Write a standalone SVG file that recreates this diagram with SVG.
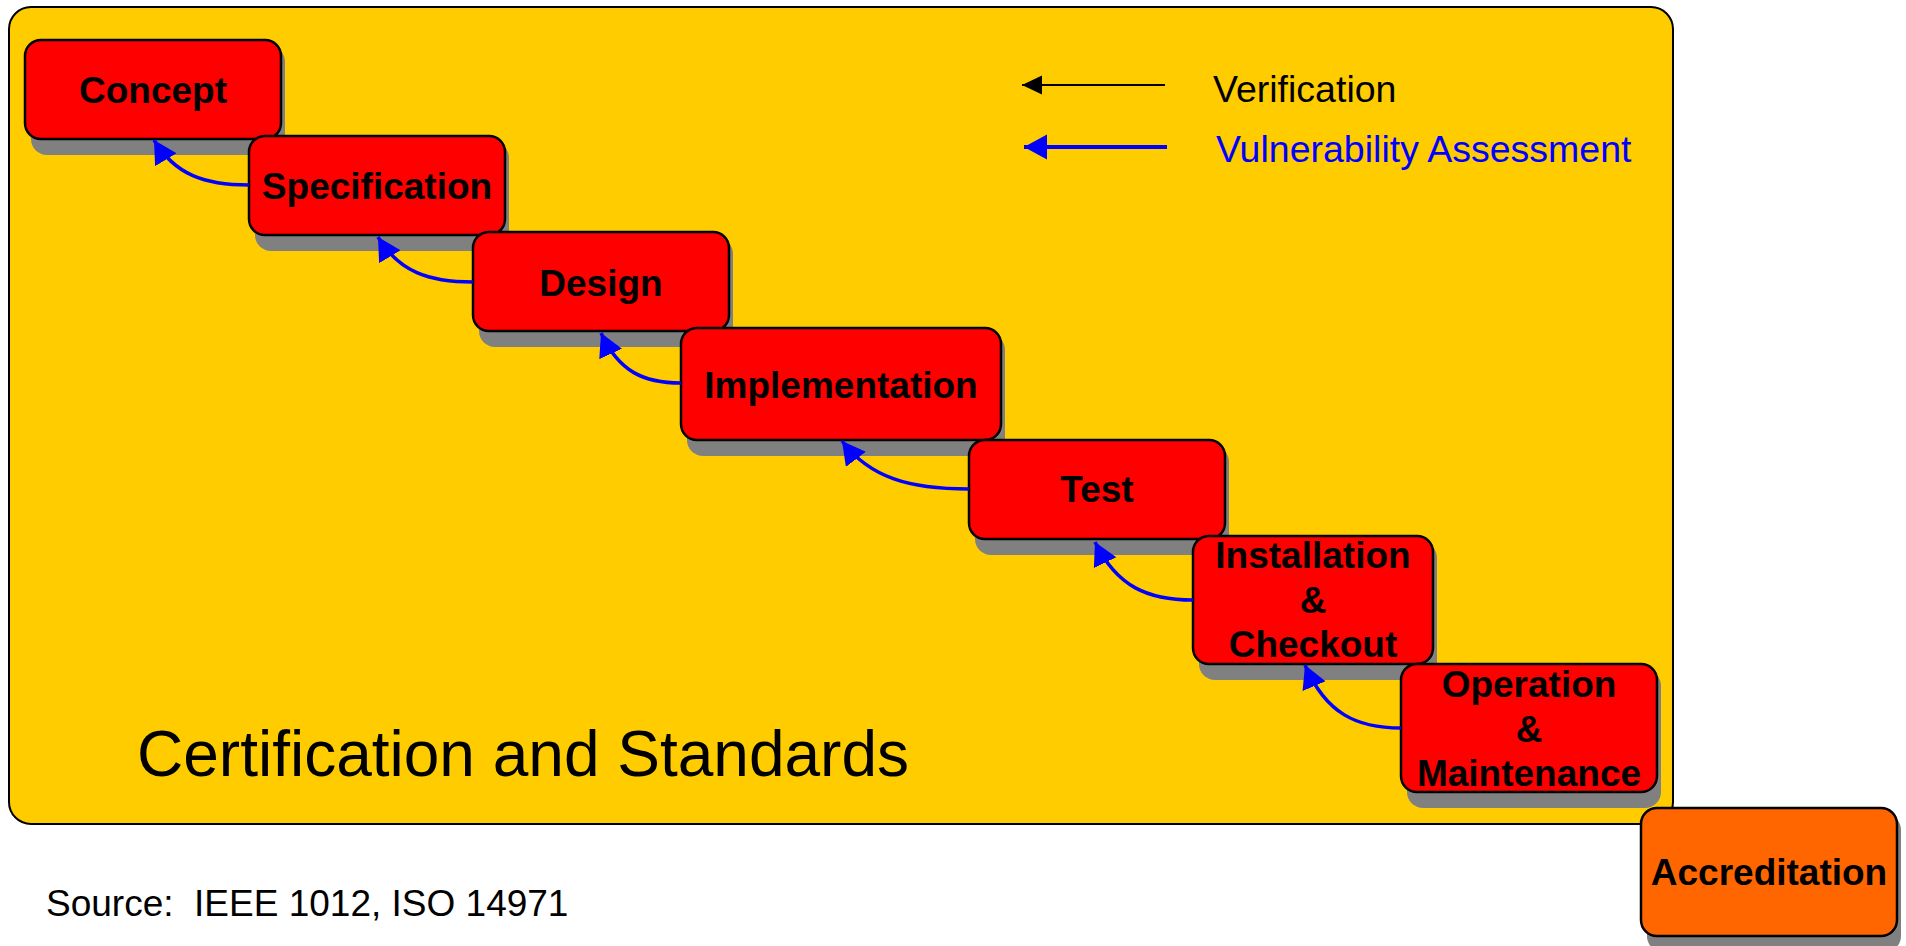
<svg xmlns="http://www.w3.org/2000/svg" width="1906" height="946" viewBox="0 0 1906 946">
  <defs>
    <style>
      .panel { fill: #FFCC00; stroke: #000; stroke-width: 2; }
      .shadow { fill: #808080; }
      .box { fill: #FF0000; stroke: #000; stroke-width: 2.5; }
      .box.orange { fill: #FF6600; }
      .label { font-family: "Liberation Sans", Arial, sans-serif; font-weight: bold; font-size: 37px; fill: #000; text-anchor: middle; }
      .plain { font-family: "Liberation Sans", Arial, sans-serif; fill: #000; }
      .va { stroke: #0000FF; stroke-width: 3.5; fill: none; }
      .ver { stroke: #000; stroke-width: 2; fill: none; }
    </style>
    <marker id="blueHead" markerUnits="userSpaceOnUse" markerWidth="26" markerHeight="26" refX="23" refY="12.5" orient="auto">
      <path d="M0,0 L23,12.5 L0,25 z" fill="#0000FF"/>
    </marker>
    <marker id="blackHead" markerUnits="userSpaceOnUse" markerWidth="22" markerHeight="22" refX="20" refY="9.5" orient="auto">
      <path d="M0,0 L20,9.5 L0,19 z" fill="#000"/>
    </marker>
  </defs>

  <!-- background panel -->
  <g id="panel">
    <rect class="panel" x="9" y="7" width="1664" height="817" rx="22" ry="22"/>
    <text class="plain" x="137" y="776" font-size="64">Certification and Standards</text>
  </g>

  <!-- legend -->
  <g id="legend">
    <line class="ver" x1="1165" y1="85" x2="1022" y2="85" marker-end="url(#blackHead)"/>
    <text class="plain" x="1213" y="102" font-size="37.5">Verification</text>
    <line x1="1167" y1="147" x2="1024" y2="147" stroke="#0000FF" stroke-width="4" marker-end="url(#blueHead)"/>
    <text class="plain" x="1216" y="162" font-size="37.5" style="fill:#0000FF">Vulnerability Assessment</text>
  </g>

  <!-- life-cycle phases -->
  <g id="concept">
    <rect class="shadow" x="31" y="46" width="254" height="109" rx="16"/>
    <rect class="box" x="25" y="40" width="256" height="99" rx="16"/>
    <text class="label" x="153" y="103">Concept</text>
  </g>
  <g id="specification">
    <rect class="shadow" x="255" y="142" width="254" height="109" rx="16"/>
    <rect class="box" x="249" y="136" width="256" height="99" rx="16"/>
    <text class="label" x="377" y="199">Specification</text>
  </g>
  <g id="design">
    <rect class="shadow" x="479" y="238" width="254" height="109" rx="16"/>
    <rect class="box" x="473" y="232" width="256" height="99" rx="16"/>
    <text class="label" x="601" y="296">Design</text>
  </g>
  <g id="implementation">
    <rect class="shadow" x="687" y="334" width="318" height="122" rx="16"/>
    <rect class="box" x="681" y="328" width="320" height="112" rx="16"/>
    <text class="label" x="841" y="398">Implementation</text>
  </g>
  <g id="test">
    <rect class="shadow" x="975" y="446" width="254" height="109" rx="16"/>
    <rect class="box" x="969" y="440" width="256" height="99" rx="16"/>
    <text class="label" x="1097" y="502">Test</text>
  </g>
  <g id="installation">
    <rect class="shadow" x="1199" y="542" width="238" height="138" rx="16"/>
    <rect class="box" x="1193" y="536" width="240" height="128" rx="16"/>
    <text class="label" x="1313" y="568">Installation</text>
    <text class="label" x="1313" y="613">&amp;</text>
    <text class="label" x="1313" y="657">Checkout</text>
  </g>
  <g id="operation">
    <rect class="shadow" x="1407" y="670" width="254" height="138" rx="16"/>
    <rect class="box" x="1401" y="664" width="256" height="128" rx="16"/>
    <text class="label" x="1529" y="697">Operation</text>
    <text class="label" x="1529" y="742">&amp;</text>
    <text class="label" x="1529" y="786">Maintenance</text>
  </g>
  <g id="accreditation">
    <rect class="shadow" x="1647" y="814" width="254" height="138" rx="16"/>
    <rect class="box orange" x="1641" y="808" width="256" height="128" rx="16"/>
    <text class="label" x="1769" y="885">Accreditation</text>
  </g>

  <!-- vulnerability assessment connectors -->
  <g id="connectors">
    <path class="va" d="M249,185 C205,185 175,175 154,140" marker-end="url(#blueHead)"/>
    <path class="va" d="M473,282 C429,282 399,272 378,237" marker-end="url(#blueHead)"/>
    <path class="va" d="M681,383 C644,383 619,372 601,333" marker-end="url(#blueHead)"/>
    <path class="va" d="M969,489 C910,489 870,478 842,441" marker-end="url(#blueHead)"/>
    <path class="va" d="M1193,600 C1148,600 1117,587 1095,542" marker-end="url(#blueHead)"/>
    <path class="va" d="M1401,728 C1357,728 1326,714 1305,665" marker-end="url(#blueHead)"/>
  </g>

  <text class="plain" x="46" y="916" font-size="37" xml:space="preserve">Source:  IEEE 1012, ISO 14971</text>
</svg>
